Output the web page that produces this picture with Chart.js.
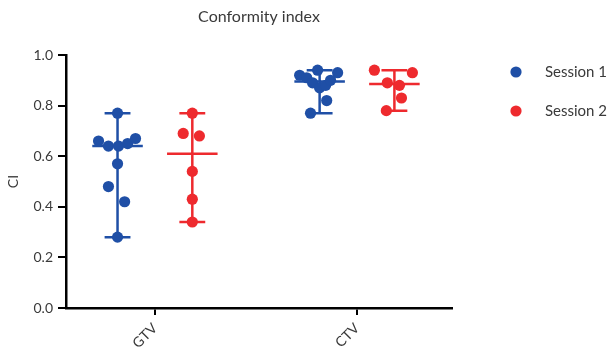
<!DOCTYPE html>
<html>
<head>
<meta charset="utf-8">
<script src="https://cdn.jsdelivr.net/npm/chart.js@4.4.1/dist/chart.umd.min.js"></script>
<style>
  html, body { margin: 0; padding: 0; background: #fff; }
  #wrap { width: 612px; height: 349px; position: relative; }
</style>
</head>
<body>
<div id="wrap"><canvas id="c"></canvas></div>
<script>
// Structures on the x axis and the two contouring sessions
const categories = ['GTV', 'CTV'];
const sessions = ['Session 1', 'Session 2'];
const sessionColors = ['#1f4fa6', '#ee2a2e'];

// Conformity index of each contour
const gtvSession1 = [0.77, 0.66, 0.64, 0.64, 0.65, 0.67, 0.57, 0.48, 0.42, 0.28];
const gtvSession2 = [0.77, 0.69, 0.68, 0.54, 0.43, 0.34];
const ctvSession1 = [0.94, 0.92, 0.91, 0.89, 0.87, 0.88, 0.90, 0.93, 0.82, 0.77];
const ctvSession2 = [0.94, 0.93, 0.89, 0.88, 0.83, 0.78];

// Horizontal spread of the dots inside each column, in category units
const gtvSession1Spread = [0, -0.094, -0.045, 0.005, 0.05, 0.089, 0, -0.045, 0.035, 0];
const gtvSession2Spread = [0, -0.045, 0.035, 0, 0, 0];
const ctvSession1Spread = [-0.01, -0.099, -0.064, -0.035, 0, 0.03, 0.054, 0.089, 0.035, -0.045];
const ctvSession2Spread = [-0.099, 0.089, -0.035, 0.025, 0.035, -0.04];

const yTicks = [0, 0.2, 0.4, 0.6, 0.8, 1.0];

// Column layout
const SESSION_SHIFT = 0.185;
const CAP_HALF = 0.064;
const MEDIAN_HALF = 0.125;

const groups = [
  { cat: 0, s: 0, values: gtvSession1, spread: gtvSession1Spread },
  { cat: 0, s: 1, values: gtvSession2, spread: gtvSession2Spread },
  { cat: 1, s: 0, values: ctvSession1, spread: ctvSession1Spread },
  { cat: 1, s: 1, values: ctvSession2, spread: ctvSession2Spread }
];

function median(arr) {
  const a = [...arr].sort((p, q) => p - q);
  const m = Math.floor(a.length / 2);
  return a.length % 2 ? a[m] : (a[m - 1] + a[m]) / 2;
}

function centerOf(g) {
  return g.cat + (g.s === 0 ? -SESSION_SHIFT : SESSION_SHIFT);
}

// Median line plus min–max whisker with caps, one line dataset per column
function whiskerData(g) {
  const c = centerOf(g);
  const lo = Math.min(...g.values);
  const hi = Math.max(...g.values);
  const med = median(g.values);
  const gap = { x: c, y: null };
  return [
    { x: c - CAP_HALF, y: hi }, { x: c + CAP_HALF, y: hi }, gap,
    { x: c, y: hi }, { x: c, y: lo }, gap,
    { x: c - CAP_HALF, y: lo }, { x: c + CAP_HALF, y: lo }, gap,
    { x: c - MEDIAN_HALF, y: med }, { x: c + MEDIAN_HALF, y: med }
  ];
}

const datasets = [];
sessions.forEach((name, s) => {
  const pts = [];
  groups.filter(g => g.s === s).forEach(g => {
    const c = centerOf(g);
    g.values.forEach((v, i) => pts.push({ x: c + g.spread[i], y: v }));
  });
  datasets.push({
    label: name,
    data: pts,
    backgroundColor: sessionColors[s],
    borderColor: sessionColors[s],
    pointRadius: 5.6,
    pointBorderWidth: 0,
    showLine: false,
    order: 0
  });
});
groups.forEach(g => {
  datasets.push({
    label: '',
    data: whiskerData(g),
    showLine: true,
    spanGaps: false,
    borderColor: sessionColors[g.s],
    borderWidth: 2.5,
    pointRadius: 0,
    fill: false,
    order: 1
  });
});

// Session key drawn to the right of the plot
const sessionKey = {
  id: 'sessionKey',
  afterDraw(chart) {
    const { ctx, chartArea } = chart;
    ctx.save();
    sessions.forEach((name, i) => {
      const y = chartArea.top + 17 + i * 39;
      ctx.fillStyle = sessionColors[i];
      ctx.beginPath();
      ctx.arc(chartArea.right + 64, y, 5.6, 0, Math.PI * 2);
      ctx.fill();
      ctx.fillStyle = '#3a3a3a';
      ctx.font = '15px Lato';
      ctx.textAlign = 'left';
      ctx.textBaseline = 'middle';
      ctx.fillText(name, chartArea.right + 93, y);
    });
    ctx.restore();
  }
};

Chart.defaults.font.family = 'Lato';
Chart.defaults.color = '#3a3a3a';

new Chart(document.getElementById('c'), {
  type: 'scatter',
  data: { datasets },
  options: {
    responsive: true,
    maintainAspectRatio: false,
    animation: false,
    layout: { padding: { left: 0, right: 160, top: 0, bottom: 0 } },
    plugins: {
      legend: { display: false },
      tooltip: { enabled: false },
      title: {
        display: true,
        text: 'Conformity index',
        fullSize: false,
        color: '#3a3a3a',
        font: { size: 16, weight: 'normal' },
        padding: { top: 7.5, bottom: 28.3 }
      }
    },
    scales: {
      x: {
        type: 'linear',
        min: -0.44,
        max: 1.47,
        afterBuildTicks(scale) {
          scale.ticks = categories.map((_, i) => ({ value: i }));
        },
        afterFit(scale) { scale.height = 41; },
        ticks: {
          callback: v => categories[v],
          minRotation: 45,
          maxRotation: 45,
          padding: 5,
          font: { size: 14 },
          color: '#3a3a3a'
        },
        grid: {
          display: true,
          drawOnChartArea: false,
          drawTicks: true,
          tickLength: 7,
          color: '#000',
          lineWidth: 2
        },
        border: { display: true, color: '#000', width: 2.5 }
      },
      y: {
        min: 0,
        max: 1,
        afterBuildTicks(scale) {
          scale.ticks = yTicks.map(v => ({ value: v }));
        },
        afterFit(scale) { scale.width = 66; },
        ticks: {
          callback: v => Number(v).toFixed(1),
          padding: 5,
          font: { size: 14 },
          color: '#3a3a3a'
        },
        title: {
          display: true,
          text: 'CI',
          color: '#3a3a3a',
          font: { size: 14 },
          padding: { top: 5, bottom: 0 }
        },
        grid: {
          display: true,
          drawOnChartArea: false,
          drawTicks: true,
          tickLength: 8,
          color: '#000',
          lineWidth: 2
        },
        border: { display: true, color: '#000', width: 2.5 }
      }
    }
  },
  plugins: [sessionKey]
});
</script>
</body>
</html>
